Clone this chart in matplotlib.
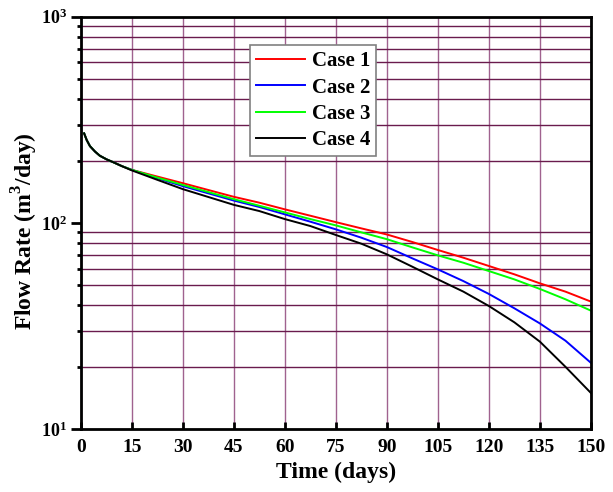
import math
import matplotlib
matplotlib.use("Agg")
import matplotlib.pyplot as plt
from matplotlib.ticker import LogLocator, FixedLocator, NullFormatter, FuncFormatter

plt.rcParams['font.family'] = ['Liberation Serif', 'DejaVu Serif']
plt.rcParams['font.weight'] = 'bold'
plt.rcParams['mathtext.fontset'] = 'custom'
plt.rcParams['mathtext.rm'] = 'Liberation Serif:bold'
plt.rcParams['mathtext.bf'] = 'Liberation Serif:bold'

# values (days, m3/day)
t_days = [1, 1.75, 2.7, 4.2, 5.6, 7.6, 9.6, 12, 15, 22.5, 30, 45, 52.5, 60, 67.5, 75,
          82.5, 90, 97.5, 105, 112.5, 120, 127.5, 135, 142.5, 150]
early = [272, 252.6, 236, 222, 212, 203.5, 197, 189]
case1 = early + [181, 168, 156, 134, 125.5, 116.5, 108.5, 101, 94.2, 88, 80.9, 74,
                 67.9, 61.9, 56.4, 51, 46.5, 41.6]
case2 = early + [181, 165, 151, 128.5, 119.6, 110.2, 101.5, 93.2, 84.9, 76.5, 67.4, 59.6,
                 52.3, 45.3, 38.6, 32.6, 26.9, 21.0]
case3 = early + [181, 166, 153, 130.5, 121.3, 112.6, 104.5, 97.4, 90.1, 83.5, 76.2, 69.7,
                 64.2, 58.5, 53.3, 47.9, 42.7, 37.6]
case4 = early + [180, 162, 146, 122.5, 114.3, 104.5, 96.7, 87.5, 79.4, 70.5, 61.4, 53.3,
                 46.5, 39.6, 33.0, 26.6, 20.1, 15.0]
labels = ["Case 1", "Case 2", "Case 3", "Case 4"]
colors = ["#ff0000", "#0000ff", "#00ff00", "#000000"]
x_ticks = [0, 15, 30, 45, 60, 75, 90, 105, 120, 135, 150]

fig = plt.figure(figsize=(6.13, 4.92), dpi=100)
ax = fig.add_axes([0.1317, 0.1274, 0.8323, 0.8386])

for y, lab, c in zip([case1, case2, case3, case4], labels, colors):
    ax.plot(t_days, y, color=c, lw=1.4, label=lab)

ax.set_yscale('log')
ax.set_xlim(0, 150)
ax.set_ylim(10, 1000)
ax.xaxis.set_major_locator(FixedLocator(x_ticks))
ax.yaxis.set_major_locator(LogLocator(base=10))
ax.yaxis.set_minor_locator(LogLocator(base=10, subs=range(2, 10)))
ax.yaxis.set_minor_formatter(NullFormatter())
ax.yaxis.set_major_formatter(FuncFormatter(lambda v, p: r'$\mathbf{10^{%d}}$' % round(math.log10(v))))

# grid: horizontal at minor decades only, vertical at 15-day steps
ax.yaxis.grid(True, which='minor', color='#6a1b4d', lw=1.0)
ax.xaxis.grid(True, which='major', color='#a0628f', lw=1.0)
ax.set_axisbelow(True)

ax.tick_params(axis='x', direction='in', length=5, width=2, labelsize=14, pad=7)
ax.tick_params(axis='y', which='major', direction='out', length=7, width=2, labelsize=13, pad=3)
ax.tick_params(axis='y', which='minor', direction='out', length=3, width=2)
for s in ax.spines.values():
    s.set_linewidth(2)

ax.set_xlabel("Time (days)", fontsize=17, fontweight='bold', labelpad=4)
ax.set_ylabel(r"Flow Rate (m$^{3}$/day)", fontsize=17, fontweight='bold')
ax.yaxis.set_label_coords(-0.08, 0.48)

leg = ax.legend(loc='upper left', bbox_to_anchor=(0.332, 0.931), borderaxespad=0,
                fancybox=False, framealpha=1, edgecolor='#808080', handlelength=2.35,
                handletextpad=0.3, prop={'family': 'Liberation Serif', 'weight': 'bold', 'size': 15},
                labelspacing=0.3, borderpad=0.3)
leg.get_frame().set_linewidth(1.2)

fig.savefig("out.png", dpi=100)
